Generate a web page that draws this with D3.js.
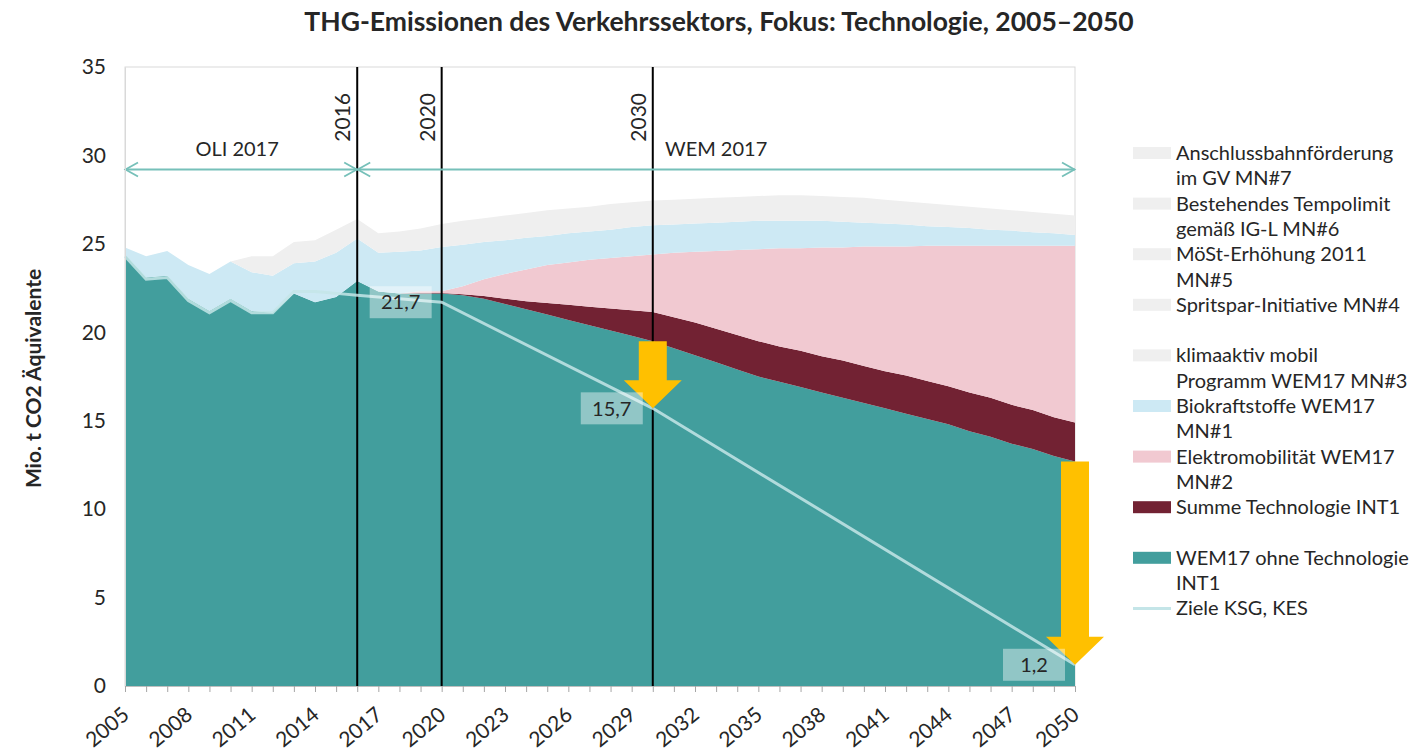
<!DOCTYPE html>
<html>
<head>
<meta charset="utf-8">
<script src="https://cdn.jsdelivr.net/npm/d3@7/dist/d3.min.js"></script>
<style>
  body { margin: 0; background: #fff; }
  text { font-family: Lato, "Open Sans", sans-serif; fill: #262626; }
</style>
</head>
<body>
<svg id="chart" width="1418" height="753"></svg>
<script>
// years 2005..2050
var years = d3.range(2005, 2051);

// Mio. t CO2 Äquivalente
var ohneTechnologie = [24.4, 23.1, 23.2, 21.9, 21.2, 21.9, 21.2, 21.1, 22.2, 21.7,
  22.0, 22.9, 22.3, 22.2, 22.2, 22.2, 22.1, 21.9, 21.6, 21.3,
  21.0, 20.7, 20.4, 20.1, 19.8, 19.5, 19.1, 18.7, 18.3, 17.9,
  17.5, 17.2, 16.9, 16.6, 16.3, 16.0, 15.7, 15.4, 15.1, 14.8,
  14.4, 14.1, 13.7, 13.4, 13.0, 12.7];
var summeTechnologie = [0, 0, 0, 0, 0, 0, 0, 0, 0, 0,
  0, 0, 0, 0, 0.02, 0.02, 0.05, 0.15, 0.3, 0.45,
  0.65, 0.85, 1.05, 1.25, 1.45, 1.65, 1.75, 1.85, 1.9, 1.95,
  2.0, 2.0, 2.05, 2.05, 2.1, 2.1, 2.1, 2.15, 2.15, 2.15,
  2.2, 2.2, 2.2, 2.2, 2.2, 2.2];
var elektromobilitaet = [0, 0, 0, 0, 0, 0, 0, 0, 0, 0,
  0, 0, 0, 0, 0.1, 0.1, 0.45, 0.95, 1.4, 1.8,
  2.15, 2.4, 2.65, 2.85, 3.05, 3.25, 3.65, 4.0, 4.4, 4.8,
  5.2, 5.55, 5.8, 6.15, 6.4, 6.75, 7.05, 7.3, 7.65, 7.95,
  8.3, 8.6, 9.0, 9.3, 9.7, 10.0];
var biokraftstoffe = [0.4, 1.2, 1.4, 1.9, 2.1, 2.1, 2.2, 2.1, 1.7, 2.3,
  2.5, 2.4, 2.2, 2.35, 2.3, 2.5, 2.35, 2.1, 1.9, 1.8,
  1.65, 1.65, 1.6, 1.6, 1.65, 1.65, 1.6, 1.6, 1.6, 1.6,
  1.6, 1.55, 1.55, 1.5, 1.45, 1.35, 1.3, 1.25, 1.1, 1.05,
  1.0, 0.9, 0.85, 0.75, 0.7, 0.6];
// MN#3 - MN#7 share one colour and are shown as one band
var weitereMassnahmen = [0, 0, 0, 0, 0, 0, 0.9, 1.1, 1.2, 1.2,
  1.3, 1.1, 1.1, 1.15, 1.25, 1.3, 1.35, 1.35, 1.4, 1.4,
  1.45, 1.4, 1.4, 1.45, 1.4, 1.4, 1.4, 1.4, 1.4, 1.4,
  1.4, 1.45, 1.45, 1.4, 1.4, 1.4, 1.35, 1.3, 1.3, 1.25,
  1.2, 1.2, 1.15, 1.15, 1.1, 1.1];

// Ziele KSG, KES
var zielJahre = [2005, 2006, 2007, 2008, 2009, 2010, 2011, 2012, 2013, 2014,
  2015, 2016, 2017, 2018, 2019, 2020, 2030, 2050];
var zielWerte = [24.3, 23.0, 23.1, 21.8, 21.1, 21.8, 21.1, 21.1, 22.3, 22.3,
  22.2, 22.1, 22.0, 21.9, 21.8, 21.7, 15.7, 1.2];
var zielLabelJahre = [2020, 2030, 2050];

var markerJahre = [2016, 2020, 2030];
var pfeilJahre = [2030, 2050];
var quellen = [
  {name: "OLI 2017", from: 2005, to: 2016},
  {name: "WEM 2017", from: 2016, to: 2050}
];

var keys = ["ohne", "summe", "elektro", "bio", "weitere"];
var colors = {ohne: "#429e9d", summe: "#722233", elektro: "#f1c9d1", bio: "#cde9f4", weitere: "#efefef"};

var legendItems = [
  {lines: ["Anschlussbahnförderung", "im GV MN#7"], color: "#efefef"},
  {lines: ["Bestehendes Tempolimit", "gemäß IG-L MN#6"], color: "#efefef"},
  {lines: ["MöSt-Erhöhung 2011", "MN#5"], color: "#efefef"},
  {lines: ["Spritspar-Initiative MN#4"], color: "#efefef", gapAfter: true},
  {lines: ["klimaaktiv mobil", "Programm WEM17 MN#3"], color: "#efefef"},
  {lines: ["Biokraftstoffe WEM17", "MN#1"], color: "#cde9f4"},
  {lines: ["Elektromobilität WEM17", "MN#2"], color: "#f1c9d1"},
  {lines: ["Summe Technologie INT1"], color: "#722233", gapAfter: true},
  {lines: ["WEM17 ohne Technologie", "INT1"], color: "#429e9d"},
  {lines: ["Ziele KSG, KES"], color: "#c4e5e8", line: true}
];

var table = years.map(function(y, i){
  return {year: y, ohne: ohneTechnologie[i], summe: summeTechnologie[i],
    elektro: elektromobilitaet[i], bio: biokraftstoffe[i], weitere: weitereMassnahmen[i]};
});

var svg = d3.select("#chart");
var x = d3.scaleLinear().domain([2005, 2050]).range([125, 1075]);
var y = d3.scaleLinear().domain([0, 35]).range([686, 67]);

// title
svg.append("text")
  .attr("x", 719).attr("y", 31)
  .attr("text-anchor", "middle")
  .style("font-size", "26.5px").style("font-weight", "bold")
  .text("THG-Emissionen des Verkehrssektors, Fokus: Technologie, 2005–2050");

// plot frame
svg.append("rect")
  .attr("x", x(2005)).attr("y", y(35))
  .attr("width", x(2050) - x(2005)).attr("height", y(0) - y(35))
  .attr("fill", "none").attr("stroke", "#d9d9d9");

// stacked areas
var series = d3.stack().keys(keys)(table);
var area = d3.area()
  .x(function(d){ return x(d.data.year); })
  .y0(function(d){ return y(d[0]); })
  .y1(function(d){ return y(d[1]); });

svg.append("g").selectAll("path")
  .data(series)
  .enter()
  .append("path")
  .attr("fill", function(s){ return colors[s.key]; })
  .attr("d", area);

// vertical marker lines + labels
markerJahre.forEach(function(j){
  svg.append("line")
    .attr("x1", x(j)).attr("x2", x(j))
    .attr("y1", y(35)).attr("y2", y(0))
    .attr("stroke", "#000").attr("stroke-width", 2);
  svg.append("text")
    .attr("transform", "translate(" + (x(j) - 7) + "," + (y(35) + 26) + ") rotate(-90)")
    .attr("text-anchor", "end")
    .style("font-size", "21px")
    .text(j);
});

// source arrows
var defs = svg.append("defs");
defs.append("marker")
  .attr("id", "chev")
  .attr("viewBox", "-15 -9 17 18")
  .attr("refX", 0).attr("refY", 0)
  .attr("markerWidth", 17).attr("markerHeight", 18)
  .attr("markerUnits", "userSpaceOnUse")
  .attr("orient", "auto-start-reverse")
  .append("path")
  .attr("d", "M-13,-7L-0.5,0L-13,7")
  .attr("fill", "none").attr("stroke", "#76c0b9").attr("stroke-width", 1.8);

quellen.forEach(function(q){
  svg.append("line")
    .attr("x1", x(q.from)).attr("x2", x(q.to))
    .attr("y1", y(29.2)).attr("y2", y(29.2))
    .attr("stroke", "#76c0b9").attr("stroke-width", 2)
    .attr("marker-start", "url(#chev)")
    .attr("marker-end", "url(#chev)");
  svg.append("text")
    .attr("x", (x(q.from) + x(q.to)) / 2 - (q.to === 2050 ? 0 : 4))
    .attr("y", y(29.2) - 14)
    .attr("text-anchor", "middle")
    .style("font-size", "20px")
    .text(q.name);
});

// target line
var zielLine = d3.line()
  .x(function(d, i){ return x(zielJahre[i]); })
  .y(function(d){ return y(d); });
svg.append("path")
  .datum(zielWerte)
  .attr("fill", "none")
  .attr("stroke", "#c4e5e8")
  .attr("stroke-opacity", 0.85)
  .attr("stroke-width", 3)
  .attr("d", zielLine);

// yellow arrows from WEM17 ohne Technologie down to target
pfeilJahre.forEach(function(j){
  var i = years.indexOf(j);
  var top = y(ohneTechnologie[i]);
  var tip = y(zielWerte[zielJahre.indexOf(j)]);
  var cx = x(j), shaft = 14, head = 29, headLen = 28;
  var pts = [[cx - shaft, top], [cx + shaft, top], [cx + shaft, tip - headLen],
    [cx + head, tip - headLen], [cx, tip], [cx - head, tip - headLen], [cx - shaft, tip - headLen]];
  svg.append("path")
    .attr("d", d3.line()(pts) + "Z")
    .attr("fill", "#ffc000");
});

// target value labels
zielLabelJahre.forEach(function(j){
  var v = zielWerte[zielJahre.indexOf(j)];
  var g = svg.append("g")
    .attr("transform", "translate(" + (x(j) - 41) + "," + y(v) + ")");
  g.append("rect")
    .attr("x", -31).attr("y", -16).attr("width", 62).attr("height", 32)
    .attr("fill", "#ffffff").attr("fill-opacity", 0.42);
  g.append("text")
    .attr("text-anchor", "middle").attr("dy", "0.36em")
    .style("font-size", "20px")
    .text(d3.format(".1f")(v).replace(".", ","));
});

// y axis
var yAxis = svg.append("g")
  .attr("transform", "translate(" + x(2005) + ",0)")
  .call(d3.axisLeft(y).tickValues(d3.range(0, 36, 5)).tickSize(0).tickPadding(19));
yAxis.select(".domain").attr("stroke", "#d9d9d9");
yAxis.selectAll("text").style("font-size", "21px").attr("fill", "#262626")
  .style("font-family", "Lato, 'Open Sans', sans-serif");

svg.append("text")
  .attr("transform", "translate(41," + ((y(0) + y(35)) / 2 + 2) + ") rotate(-90)")
  .attr("text-anchor", "middle")
  .style("font-size", "21px").style("font-weight", "bold")
  .text("Mio. t CO2 Äquivalente");

// x axis
var xAxis = svg.append("g")
  .attr("transform", "translate(0," + y(0) + ")")
  .call(d3.axisBottom(x).tickValues(years).tickSize(6)
    .tickFormat(function(d){ return (d - 2005) % 3 === 0 ? d : ""; }));
xAxis.select(".domain").attr("stroke", "#bfbfbf");
xAxis.selectAll(".tick line").attr("stroke", "#a6a6a6");
xAxis.selectAll("text")
  .style("font-size", "21px").attr("fill", "#262626")
  .style("font-family", "Lato, 'Open Sans', sans-serif")
  .attr("text-anchor", "end")
  .attr("x", 0).attr("y", 0).attr("dy", 0)
  .attr("transform", "translate(5,31) rotate(-40)");

// legend
var ly = 153;
var legend = svg.append("g");
legendItems.forEach(function(item){
  if (item.line) {
    legend.append("line")
      .attr("x1", 1133).attr("x2", 1171).attr("y1", ly).attr("y2", ly)
      .attr("stroke", item.color).attr("stroke-width", 3);
  } else {
    legend.append("rect")
      .attr("x", 1133).attr("y", ly - 6).attr("width", 38).attr("height", 12)
      .attr("fill", item.color);
  }
  item.lines.forEach(function(t){
    legend.append("text")
      .attr("x", 1176).attr("y", ly + 7)
      .style("font-size", "20px")
      .text(t);
    ly += 25.3;
  });
  if (item.gapAfter) ly += 25.3;
});
</script>
</body>
</html>
